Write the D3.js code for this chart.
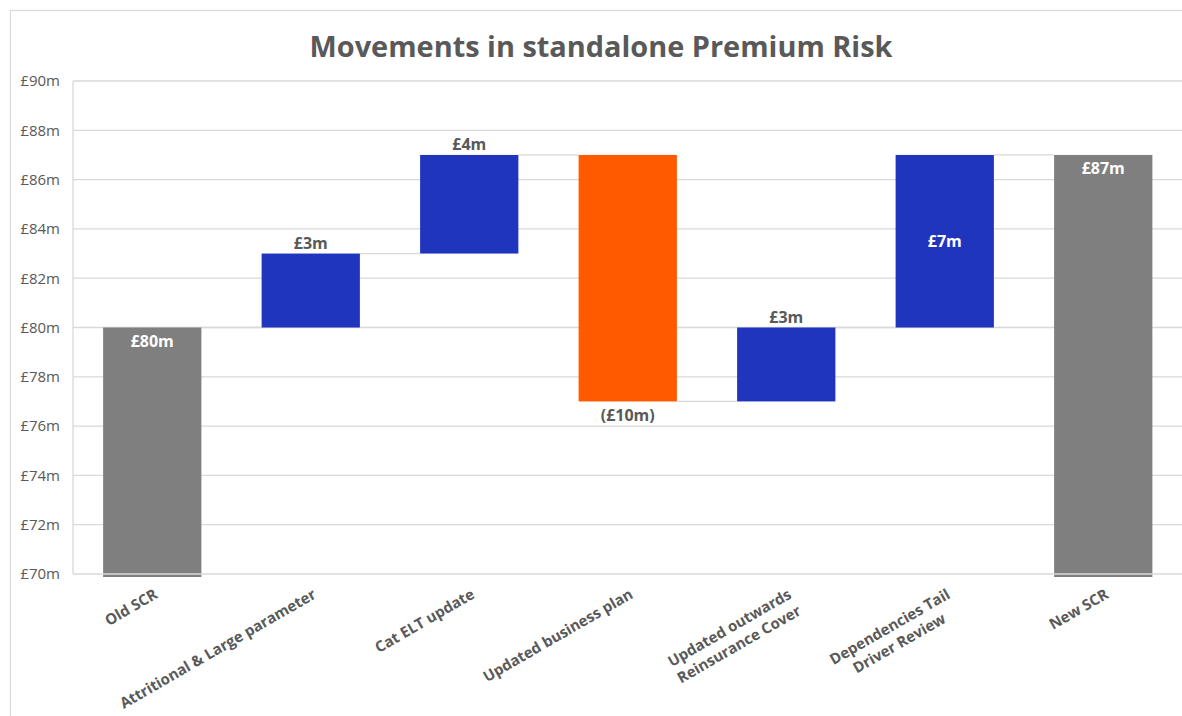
<!DOCTYPE html>
<html>
<head>
<meta charset="utf-8">
<script src="https://cdn.jsdelivr.net/npm/d3@7"></script>
<style>
  html, body { margin: 0; padding: 0; background: #fff; }
  svg { display: block; font-family: "Open Sans", "Liberation Sans", sans-serif; }
</style>
</head>
<body>
<svg id="chart" width="1182" height="716"></svg>
<script>
// ---- data ----
const title = "Movements in standalone Premium Risk";
const categories = ["Old SCR", "Attritional & Large parameter", "Cat ELT update", "Updated business plan",
  "Updated outwards Reinsurance Cover", "Dependencies Tail Driver Review", "New SCR"];
const categoryLines = [["Old SCR"], ["Attritional & Large parameter"], ["Cat ELT update"], ["Updated business plan"],
  ["Updated outwards", "Reinsurance Cover"], ["Dependencies Tail", "Driver Review"], ["New SCR"]];
const changes = [80, 3, 4, -10, 3, 7, 87];
const kinds = ["total", "increase", "increase", "decrease", "increase", "increase", "total"];
const labelPlacement = ["insideTop", "above", "above", "below", "above", "center", "insideTop"];
const yTicks = [70, 72, 74, 76, 78, 80, 82, 84, 86, 88, 90];
const yDomain = [70, 90];

// ---- build waterfall ----
let running = 0;
const bars = categories.map((c, i) => {
  let start, end;
  if (kinds[i] === "total") { start = yDomain[0]; end = changes[i]; running = changes[i]; }
  else { start = running; end = running + changes[i]; running = end; }
  return { cat: c, i, start, end, value: changes[i], kind: kinds[i], place: labelPlacement[i], lines: categoryLines[i] };
});

const colors = { total: "#7F7F7F", increase: "#1F35BD", decrease: "#FF5A00" };
const textGrey = "#595959";
const gridColor = "#D9D9D9";

const svg = d3.select("#chart");
const plot = { left: 73, right: 1182.5, top: 81, bottom: 574 };

const x = d3.scaleBand().domain(categories).range([plot.left, plot.right]).paddingInner(0.38).paddingOuter(0.19);
const y = d3.scaleLinear().domain(yDomain).range([plot.bottom, plot.top]);

// outer chart border
svg.append("rect").attr("x", 10.5).attr("y", 10.5).attr("width", 1300).attr("height", 800)
  .attr("fill", "none").attr("stroke", gridColor).attr("stroke-width", 1.2);

// gridlines
svg.append("g").selectAll("line").data(yTicks.filter(t => t !== yDomain[0])).join("line")
  .attr("x1", plot.left).attr("x2", 1182).attr("y1", d => y(d)).attr("y2", d => y(d))
  .attr("stroke", gridColor).attr("stroke-width", 1.3);

// y axis labels
const yAxis = d3.axisLeft(y).tickValues(yTicks).tickSize(0).tickPadding(13).tickFormat(d => "£" + d + "m");
const gy = svg.append("g").attr("transform", `translate(${plot.left},0)`).call(yAxis);
gy.select(".domain").remove();
gy.selectAll("text").attr("fill", textGrey).style("font-size", "15px").style("font-family", '"Open Sans", sans-serif');

// vertical axis line
svg.append("line").attr("x1", plot.left).attr("x2", plot.left).attr("y1", y(yDomain[1])).attr("y2", y(yDomain[0]))
  .attr("stroke", gridColor).attr("stroke-width", 1.3);

// connectors
const conn = bars.slice(0, -1).map((b, i) => ({ from: b, to: bars[i + 1], level: b.end }));
svg.append("g").selectAll("line").data(conn).join("line")
  .attr("x1", d => x(d.from.cat) + x.bandwidth()).attr("x2", d => x(d.to.cat))
  .attr("y1", d => y(d.level)).attr("y2", d => y(d.level))
  .attr("stroke", gridColor).attr("stroke-width", 1.3);

// bars
svg.append("g").selectAll("rect").data(bars).join("rect")
  .attr("x", d => x(d.cat)).attr("width", x.bandwidth())
  .attr("y", d => y(Math.max(d.start, d.end)))
  .attr("height", d => Math.abs(y(d.start) - y(d.end)) + (d.kind === "total" ? 3 : 0))
  .attr("fill", d => colors[d.kind]);

// baseline (70) drawn over bars
svg.append("line").attr("x1", plot.left).attr("x2", 1182).attr("y1", y(yDomain[0])).attr("y2", y(yDomain[0]))
  .attr("stroke", gridColor).attr("stroke-width", 1.3);

// data labels
const fmt = v => v < 0 ? "(£" + Math.abs(v) + "m)" : "£" + v + "m";
svg.append("g").selectAll("text").data(bars).join("text")
  .attr("x", d => x(d.cat) + x.bandwidth() / 2)
  .attr("y", d => {
    const top = y(Math.max(d.start, d.end)), bot = y(Math.min(d.start, d.end));
    if (d.place === "above") return top - 5;
    if (d.place === "below") return bot + 20;
    if (d.place === "insideTop") return top + 19;
    return (top + bot) / 2 + 6;
  })
  .attr("text-anchor", "middle")
  .attr("fill", d => (d.place === "insideTop" || d.place === "center") ? "#FFFFFF" : textGrey)
  .style("font-size", "16px").style("font-weight", "700")
  .text(d => fmt(d.value));

// x labels
const xl = svg.append("g").selectAll("g").data(bars).join("g")
  .attr("transform", d => `translate(${x(d.cat) + x.bandwidth() / 2 + 1},588) rotate(-30)`);
xl.each(function (d) {
  const g = d3.select(this);
  const texts = d.lines.map((ln, k) => g.append("text")
    .attr("fill", textGrey).style("font-size", "15px").style("font-weight", "700")
    .attr("y", k * 19).attr("dy", "0.72em").text(ln));
  const widths = texts.map(t => t.node().getComputedTextLength());
  const maxW = d3.max(widths);
  texts.forEach(t => t.attr("text-anchor", "middle").attr("x", -maxW / 2));
});

// title
const tt = svg.append("text").attr("x", 601).attr("y", 57).attr("text-anchor", "middle")
  .attr("fill", textGrey).style("font-weight", "700").style("font-size", "30px").text(title);
const w = tt.node().getComputedTextLength();
tt.style("font-size", (30 * 583 / w).toFixed(2) + "px");
</script>
</body>
</html>
